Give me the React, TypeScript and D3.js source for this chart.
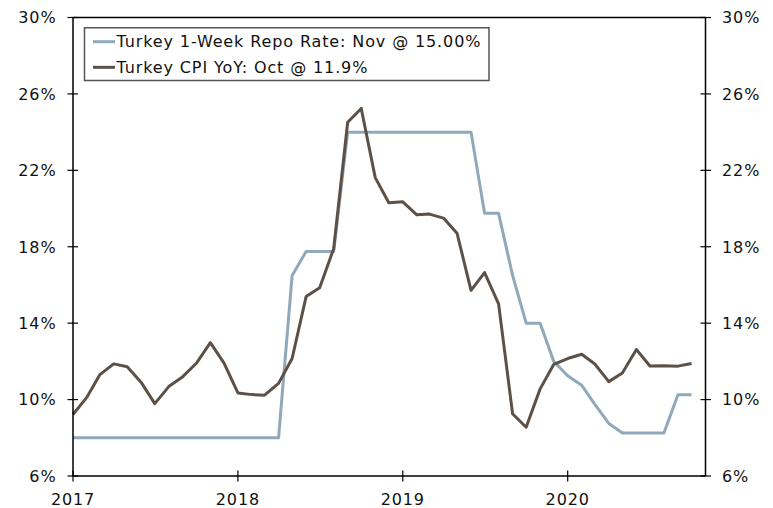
import React from "react";
import * as d3 from "d3";

const startMonth = "2017-01";
const endMonth = "2020-10";
const yearTicks = ["2017", "2018", "2019", "2020"];
const yTicks = [6, 10, 14, 18, 22, 26, 30];

const repoLabel = "Turkey 1-Week Repo Rate: Nov @ 15.00%";
const cpiLabel = "Turkey CPI YoY: Oct @ 11.9%";

const repoRate = [
  8, 8, 8, 8, 8, 8, 8, 8, 8, 8, 8, 8,
  8, 8, 8, 8, 16.5, 17.75, 17.75, 17.75, 24, 24, 24, 24,
  24, 24, 24, 24, 24, 24, 19.75, 19.75, 16.5, 14, 14, 12,
  11.25, 10.75, 9.75, 8.75, 8.25, 8.25, 8.25, 8.25, 10.25, 10.25,
];

const cpiYoY = [
  9.22, 10.13, 11.29, 11.87, 11.72, 10.9, 9.79, 10.68, 11.2, 11.9, 12.98, 11.92,
  10.35, 10.26, 10.23, 10.85, 12.15, 15.39, 15.85, 17.9, 24.52, 25.24, 21.62, 20.3,
  20.35, 19.67, 19.71, 19.5, 18.71, 15.72, 16.65, 15.01, 9.26, 8.55, 10.56, 11.84,
  12.15, 12.37, 11.86, 10.94, 11.39, 12.62, 11.76, 11.77, 11.75, 11.89,
];

const W = 773;
const H = 508;
const left = 73;
const right = 705.5;
const top = 17.5;
const bottom = 476;
const font = "Verdana, 'DejaVu Sans', sans-serif";
const ls = 0.88;

export default function App() {
  const parse = d3.timeParse("%Y-%m");
  const start = parse(startMonth) as Date;
  const end = parse(endMonth) as Date;
  const months = d3.timeMonth.range(start, d3.timeMonth.offset(end, 1));
  const x = d3
    .scaleTime()
    .domain([start, d3.timeMonth.offset(end, 1)])
    .range([left, right]);
  const y = d3.scaleLinear().domain([6, 30]).range([bottom, top]);

  const line = d3
    .line<number>()
    .x((_, i) => x(months[i]))
    .y((d) => y(d))
    .curve(d3.curveLinear);

  const yearDates = yearTicks.map((t) => d3.timeParse("%Y")(t) as Date);

  return (
    <svg
      width={W}
      height={H}
      style={{ position: "absolute", left: 0, top: 0, background: "#fff" }}
      fontFamily={font}
      letterSpacing={ls}
    >
      <rect x={0} y={0} width={W} height={H} fill="#fff" />
      {/* series */}
      <path d={line(repoRate) ?? ""} fill="none" stroke="#8FA9BA" strokeWidth={3} strokeLinejoin="round" />
      <path d={line(cpiYoY) ?? ""} fill="none" stroke="#5D5147" strokeWidth={3} strokeLinejoin="round" />

      {/* frame */}
      <line x1={left} x2={right} y1={top} y2={top} stroke="#000" strokeWidth={1.5} />
      <line x1={left} x2={right} y1={bottom} y2={bottom} stroke="#000" strokeWidth={1.5} />
      <line x1={left} x2={left} y1={top} y2={bottom} stroke="#000" strokeWidth={1.5} />
      <line x1={right} x2={right} y1={top} y2={bottom} stroke="#000" strokeWidth={1.5} />

      {/* y ticks */}
      {yTicks.map((t) => (
        <g key={t}>
          <line x1={left - 5.5} x2={left + 5} y1={y(t)} y2={y(t)} stroke="#000" strokeWidth={1.2} />
          <line x1={right - 5} x2={right + 5.5} y1={y(t)} y2={y(t)} stroke="#000" strokeWidth={1.2} />
          <text x={56.5} y={y(t)} dy="0.36em" textAnchor="end" fontSize={16} fill="#111">
            {t}%
          </text>
          <text x={722} y={y(t)} dy="0.36em" textAnchor="start" fontSize={16} fill="#111">
            {t}%
          </text>
        </g>
      ))}

      {/* x ticks */}
      {yearDates.map((d, i) => (
        <g key={yearTicks[i]}>
          <line x1={x(d)} x2={x(d)} y1={bottom - 5.5} y2={bottom + 5.5} stroke="#000" strokeWidth={1.2} />
          <text x={x(d)} y={505} textAnchor="middle" fontSize={16} fill="#111">
            {yearTicks[i]}
          </text>
        </g>
      ))}

      {/* legend */}
      <rect x={84.5} y={27.75} width={404.5} height={52.75} fill="#fff" stroke="#555" strokeWidth={1.5} />
      <line x1={93} x2={115} y1={41.7} y2={41.7} stroke="#8FA9BA" strokeWidth={3} />
      <text x={116.5} y={41.7} dy="0.36em" fontSize={16} fill="#111">
        {repoLabel}
      </text>
      <line x1={93} x2={115} y1={67.3} y2={67.3} stroke="#5D5147" strokeWidth={3} />
      <text x={116.5} y={67.3} dy="0.36em" fontSize={16} fill="#111">
        {cpiLabel}
      </text>
    </svg>
  );
}
